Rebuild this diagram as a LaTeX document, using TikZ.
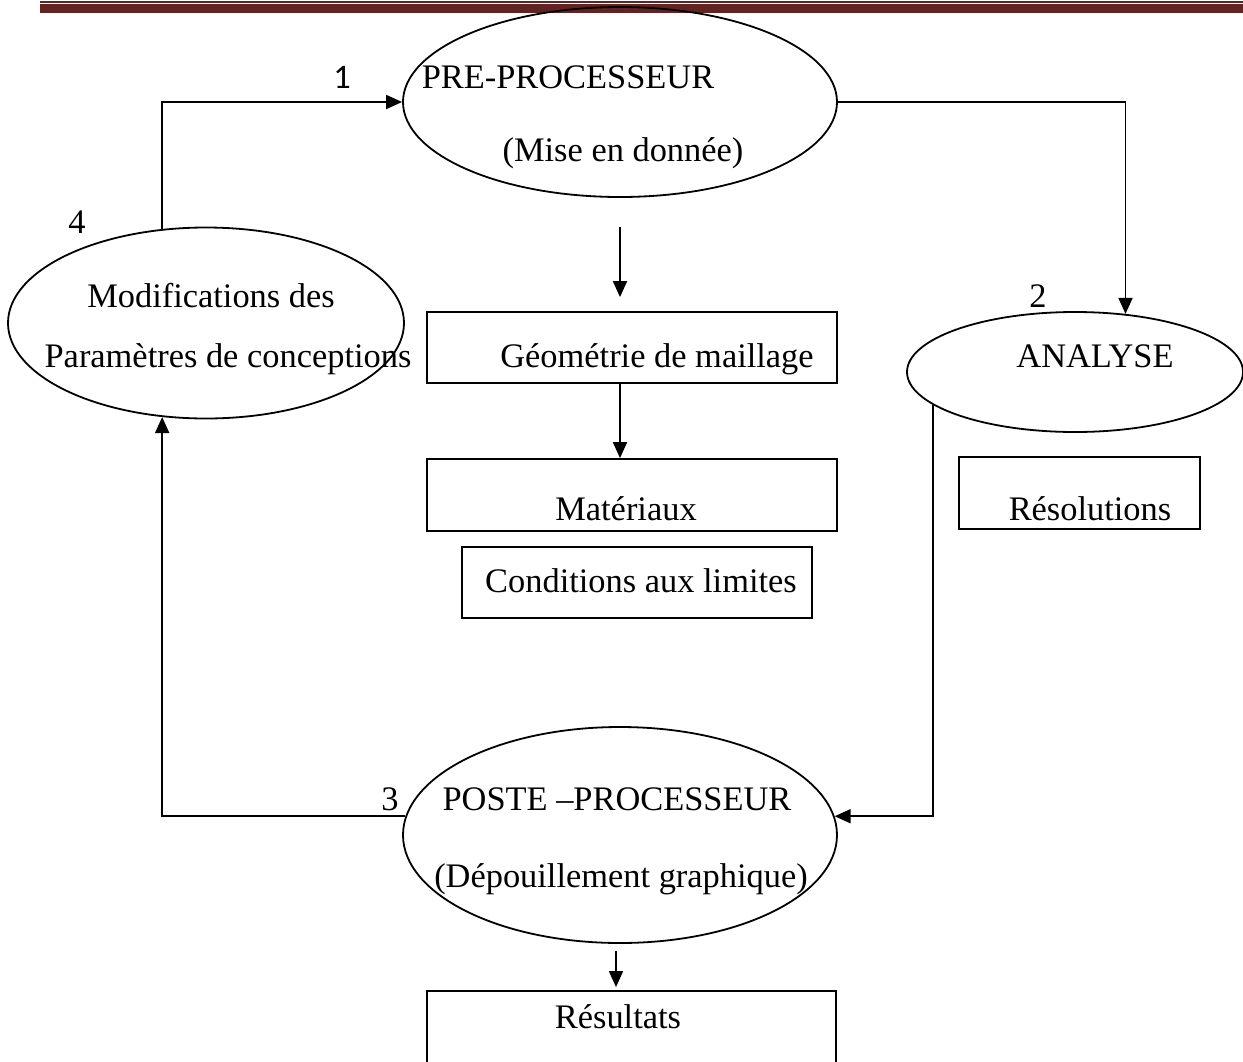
\documentclass[tikz,border=0pt]{standalone}
\usepackage{fontspec}
\setmainfont{Liberation Serif}
\newfontfamily\chiffre{Carlito}
\usetikzlibrary{shapes.geometric,arrows.meta}
\definecolor{entete}{HTML}{622423}

\begin{document}
\begin{tikzpicture}[x=0.5pt, y=-0.5pt,
    ovale/.style={draw, ellipse, line width=0.9pt, inner sep=0pt},
    cadre/.style={draw, rectangle, line width=0.9pt, inner sep=0pt},
    txt/.style={anchor=base, inner sep=0pt, font=\fontsize{17.2}{20}\selectfont},
    fleche/.style={line width=0.9pt, -{Triangle[length=8pt,width=7pt]}}]

\useasboundingbox (0,0) rectangle (1243,1061);
\clip (0,0) rectangle (1243,1061);

% header rule
\fill  [entete]  (40, 1.3) rectangle (1243, 2.7);
\fill  [entete]  (40, 4) rectangle (1243, 12.7);

\node  [ovale, minimum width=217pt, minimum height=95pt]    (pre)     at  (620, 102)  {};
\node  [ovale, minimum width=198pt, minimum height=95.5pt]  (modif)   at  (206, 323)  {};
\node  [ovale, minimum width=168pt, minimum height=60pt]    (analyse) at  (1075, 372) {};
\node  [ovale, minimum width=217pt, minimum height=108pt]   (poste)   at  (620, 835)  {};

\node  [cadre, minimum width=205pt, minimum height=35.5pt]   (geo)  at  (632, 347.5)  {};
\node  [cadre, minimum width=205pt, minimum height=36pt]     (mat)  at  (632, 495)    {};
\node  [cadre, minimum width=175pt, minimum height=35.5pt]   (cond) at  (637, 582.5)  {};
\node  [cadre, minimum width=120.5pt, minimum height=36pt]   (reso) at  (1079.5, 493) {};
\node  [cadre, minimum width=204.5pt, minimum height=42pt]   (res)  at  (631.5, 1033) {};

% texts
\node  [txt]  (tpre)   at  (568, 88)   {PRE-PROCESSEUR};
\node  [txt]  (tmise)  at  (623, 161)  {(Mise en donnée)};
\node  [txt]  (tmod)   at  (211, 307)  {Modifications des};
\node  [txt]  (tpar)   at  (228, 367)  {Paramètres de conceptions};
\node  [txt]  (tgeo)   at  (657, 367)  {Géométrie de maillage};
\node  [txt]  (tmat)   at  (626, 520)  {Matériaux};
\node  [txt]  (tcond)  at  (641, 592)  {Conditions aux limites};
\node  [txt]  (tana)   at  (1095, 367) {ANALYSE};
\node  [txt]  (treso)  at  (1090, 520) {Résolutions};
\node  [txt]  (tpost)  at  (617, 810)  {POSTE –PROCESSEUR};
\node  [txt]  (tdep)   at  (621, 887)  {(Dépouillement graphique)};
\node  [txt]  (tres)   at  (618, 1028) {Résultats};

% step numbers
\node  [txt, font=\fontsize{17.2}{20}\chiffre]  (num1)  at  (342, 88)   {1};
\node  [txt]  (num2)  at  (1038, 307)  {2};
\node  [txt]  (num3)  at  (390, 810)   {3};
\node  [txt]  (num4)  at  (77, 233)    {4};

% loop
\draw  [fleche]  (modif.115) |- (pre.west);
\draw  [fleche]  (pre.east) -| (analyse.49);
\draw  [fleche]  (analyse.193) |- (poste.5);
\draw  [fleche]  (poste.175) -| (modif.245);

% down arrows
\draw  [fleche, shorten <=14.5pt, shorten >=7pt]  (pre.south) -- (pre.south |- geo.north);
\draw  [fleche]  (pre.south |- geo.south) -- (pre.south |- mat.north);
\draw  [fleche, shorten <=3.5pt, shorten >=1.5pt]  ([xshift=-2pt]poste.south) -- ([xshift=-2pt]poste.south |- res.north);

\end{tikzpicture}
\end{document}
